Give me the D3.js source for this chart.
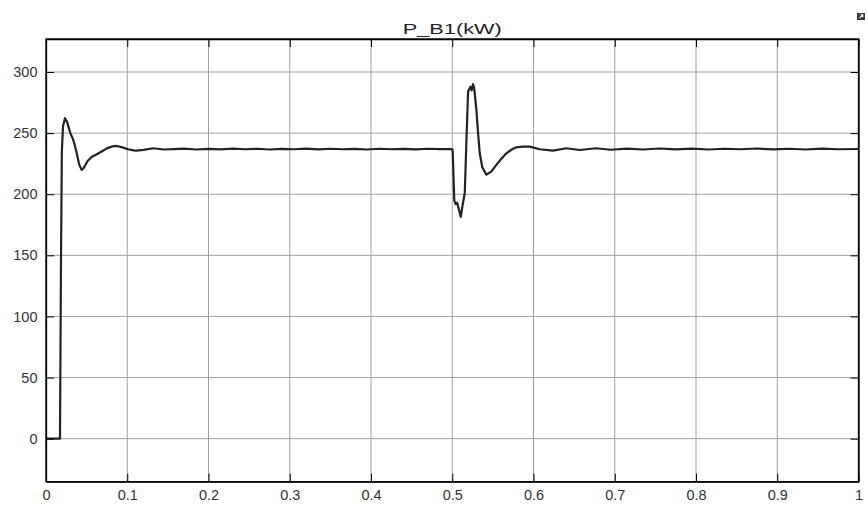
<!DOCTYPE html>
<html>
<head>
<meta charset="utf-8">
<script src="https://cdn.jsdelivr.net/npm/d3@7"></script>
<style>
  body { margin: 0; background: #fff; }
  svg { display: block; font-family: "Liberation Sans", Arial, sans-serif; }
</style>
</head>
<body>
<div id="chartContainer"></div>
<script>
// time (s) of each sample
const timeValues = [
    0, 0.0172, 0.0185, 0.0195, 0.021, 0.0234, 0.026, 0.030, 0.0336, 0.037,
    0.041, 0.0439, 0.047, 0.051, 0.056, 0.062, 0.0685, 0.075, 0.082, 0.087,
    0.093, 0.101, 0.108, 0.1116, 0.12, 0.132, 0.145, 0.157, 0.17, 0.185,
    0.2, 0.215, 0.23, 0.245, 0.26, 0.275, 0.29, 0.305, 0.32, 0.335,
    0.35, 0.365, 0.38, 0.395, 0.41, 0.425, 0.44, 0.455, 0.47, 0.485,
    0.4995, 0.5005, 0.5025, 0.504, 0.506, 0.508, 0.5105, 0.5125, 0.5154, 0.5175,
    0.5195, 0.521, 0.5224, 0.524, 0.5256, 0.527, 0.5297, 0.5318, 0.5338, 0.537,
    0.542, 0.548, 0.5543, 0.5605, 0.5666, 0.573, 0.579, 0.587, 0.5953, 0.6076,
    0.624, 0.6405, 0.657, 0.677, 0.695, 0.715, 0.735, 0.755, 0.775, 0.795,
    0.815, 0.835, 0.855, 0.875, 0.895, 0.915, 0.935, 0.955, 0.975, 1.0
];

// P_B1 in kW
const powerValues = [
    0, 0, 150, 235, 256, 262.2, 259, 250, 244.4, 236,
    224, 219.9, 222, 227, 230.5, 232.5, 235, 237.5, 239.2, 239.5,
    238.5, 236.8, 235.9, 235.7, 236.3, 237.6, 236.6, 236.9, 237.3, 236.6,
    237.1, 236.7, 237.3, 236.8, 237.2, 236.6, 237.1, 236.8, 237.3, 236.7,
    237.2, 236.8, 237.1, 236.6, 237.2, 236.8, 237.1, 236.7, 237.2, 236.9,
    237, 236, 195, 192, 193, 188, 181.5, 190, 201, 245,
    284, 286, 288, 285, 290, 287, 269, 250, 233.5, 222,
    216, 218.5, 224, 229, 233.5, 236.5, 238.4, 239, 238.9, 236.8,
    235.7, 237.6, 236.2, 237.6, 236.4, 237.3, 236.6, 237.4, 236.7, 237.3,
    236.6, 237.2, 236.8, 237.4, 236.7, 237.2, 236.6, 237.3, 236.8, 237
];

const xTicks = [0, 0.1, 0.2, 0.3, 0.4, 0.5, 0.6, 0.7, 0.8, 0.9, 1];
const yTicks = [0, 50, 100, 150, 200, 250, 300];
const xDomain = [0, 1];
const yDomain = [-35.2, 327];
const chartTitle = 'P_B1(kW)';

const width = 868;
const height = 505;
const margin = { top: 39, right: 9.5, bottom: 23.3, left: 46 };

const data = timeValues.map((t, i) => ({ t: t, value: powerValues[i] }));

const svg = d3.select('#chartContainer')
    .append('svg')
    .attr('width', width)
    .attr('height', height)
    .style('background', '#fff');

const scaleX = d3.scaleLinear()
    .domain(xDomain)
    .range([margin.left, width - margin.right]);

const scaleY = d3.scaleLinear()
    .domain(yDomain)
    .range([height - margin.bottom, margin.top]);

// grid
const grid = svg.append('g').attr('class', 'grid');

grid.selectAll('line.vgrid')
    .data(xTicks.slice(1, -1))
    .enter()
    .append('line')
    .attr('x1', d => scaleX(d))
    .attr('x2', d => scaleX(d))
    .attr('y1', margin.top)
    .attr('y2', height - margin.bottom)
    .attr('stroke', '#a0a0a0')
    .attr('stroke-width', 1);

grid.selectAll('line.hgrid')
    .data(yTicks)
    .enter()
    .append('line')
    .attr('x1', margin.left)
    .attr('x2', width - margin.right)
    .attr('y1', d => scaleY(d))
    .attr('y2', d => scaleY(d))
    .attr('stroke', '#a0a0a0')
    .attr('stroke-width', 1);

// the signal
const lineMaker = d3.line()
    .x(d => scaleX(d.t))
    .y(d => scaleY(d.value));

svg.append('path')
    .attr('d', lineMaker(data))
    .attr('fill', 'none')
    .attr('stroke', '#222')
    .attr('stroke-width', 2.2)
    .attr('stroke-linejoin', 'round');

// X Axis
svg.append('g')
    .attr('transform', `translate(0, ${height - margin.bottom})`)
    .call(d3.axisBottom(scaleX)
        .tickValues(xTicks)
        .tickFormat(d3.format('~g'))
        .tickSize(-8)
        .tickSizeOuter(0)
        .tickPadding(8.5));

// Y Axis
svg.append('g')
    .attr('transform', `translate(${margin.left}, 0)`)
    .call(d3.axisLeft(scaleY)
        .tickValues(yTicks)
        .tickSize(-8)
        .tickSizeOuter(0)
        .tickPadding(8.5));

// mirrored ticks on top and right
svg.append('g')
    .attr('transform', `translate(0, ${margin.top})`)
    .call(d3.axisTop(scaleX).tickValues(xTicks).tickSize(-8).tickSizeOuter(0).tickFormat(''));

svg.append('g')
    .attr('transform', `translate(${width - margin.right}, 0)`)
    .call(d3.axisRight(scaleY).tickValues(yTicks).tickSize(-8).tickSizeOuter(0).tickFormat(''));

svg.selectAll('.domain').attr('stroke', '#000').attr('stroke-width', 1.3);
svg.selectAll('.tick line').attr('stroke', '#000');
svg.selectAll('.tick text')
    .attr('fill', '#333')
    .style('font-size', '14.5px')
    .style('font-family', '"Liberation Sans", Arial, sans-serif');

// frame
svg.append('rect')
    .attr('x', margin.left)
    .attr('y', margin.top)
    .attr('width', width - margin.left - margin.right)
    .attr('height', height - margin.top - margin.bottom)
    .attr('fill', 'none')
    .attr('stroke', '#000')
    .attr('stroke-width', 1.3);

// title
svg.append('text')
    .attr('x', (margin.left + width - margin.right) / 2)
    .attr('y', 34)
    .attr('text-anchor', 'middle')
    .attr('fill', '#222')
    .attr('textLength', 99)
    .attr('lengthAdjust', 'spacingAndGlyphs')
    .style('font-size', '15px')
    .text(chartTitle);

// little undock icon top right
const icon = svg.append('g').attr('transform', 'translate(857, 13)');
icon.append('rect')
    .attr('width', 8).attr('height', 7)
    .attr('fill', '#3a3a3a');
icon.append('path')
    .attr('d', 'M2.5,5.2 L5.8,1.8 M3.6,1.8 L5.8,1.8 L5.8,4')
    .attr('fill', 'none').attr('stroke', '#fff').attr('stroke-width', 1.1);
</script>
</body>
</html>
